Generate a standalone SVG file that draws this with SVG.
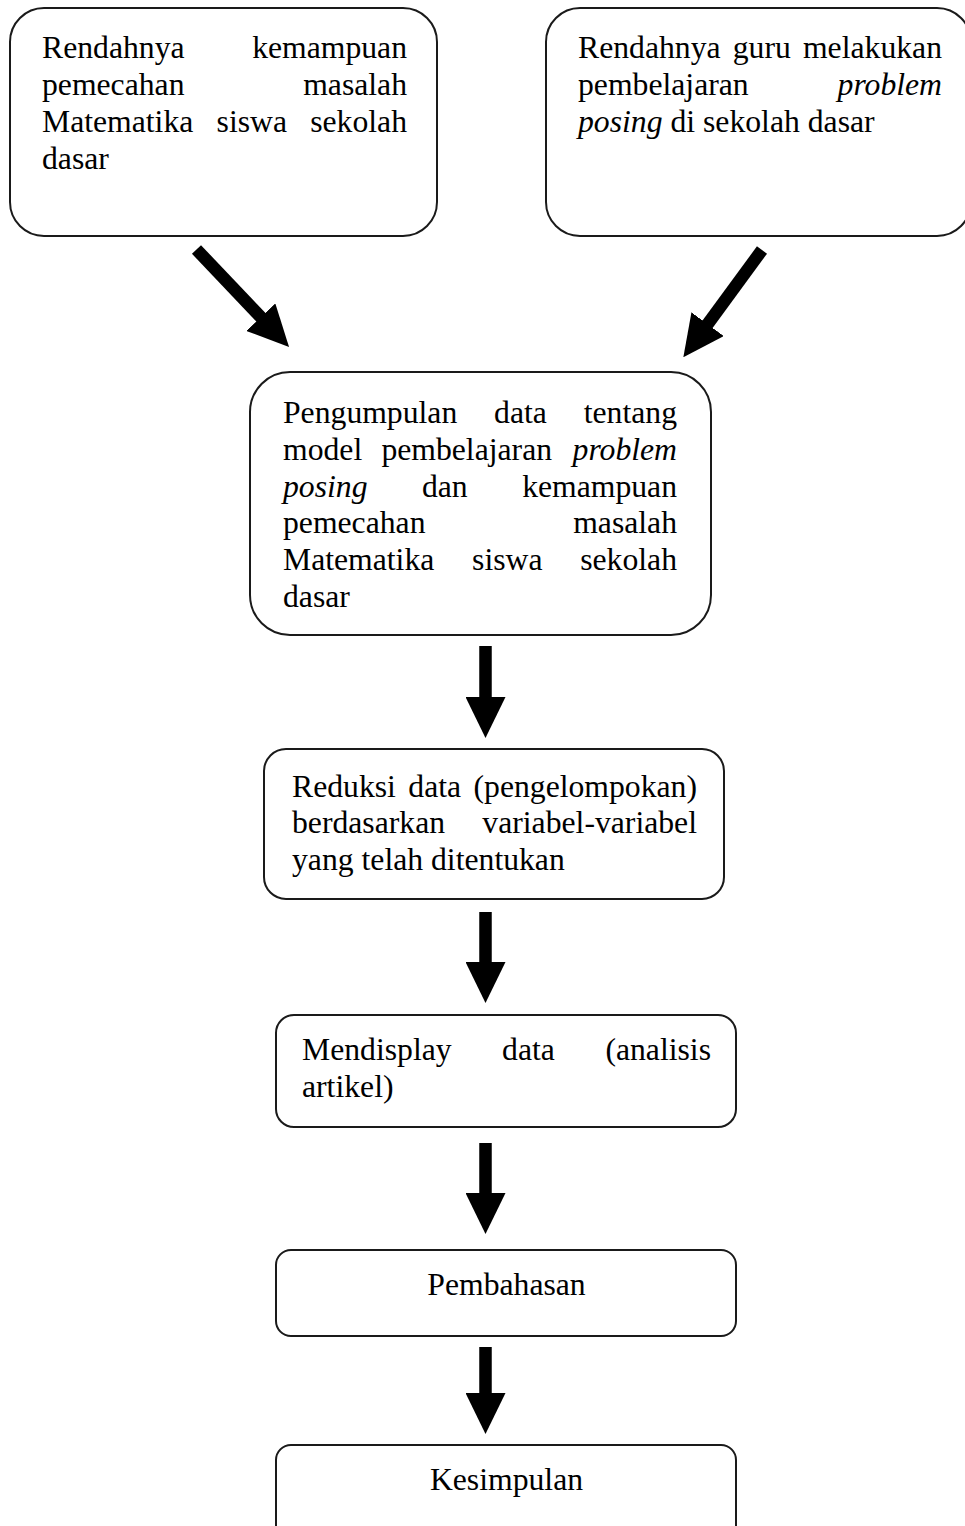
<svg xmlns="http://www.w3.org/2000/svg" width="965" height="1526" viewBox="0 0 965 1526">
<style>
.box{fill:#fff;stroke:#1a1a1a;stroke-width:2}
text{font-family:"Liberation Serif","Times New Roman",serif;font-size:31.7px;fill:#000}
.it{font-style:italic}
.e{text-anchor:end}
.m{text-anchor:middle}
.conn{stroke:#000;stroke-width:12.5;fill:none;stroke-linecap:butt}
</style>
<defs>
<marker id="ah" markerUnits="userSpaceOnUse" markerWidth="41" markerHeight="40" viewBox="0 0 41 40" refX="1" refY="20" orient="auto">
<path d="M0,0 L41,20 L0,40 z" fill="#000"/>
</marker>
</defs>
<rect width="965" height="1526" fill="#fff"/>

<g id="node1">
<rect class="box" x="10" y="8" width="427" height="228" rx="34" ry="34"/>
<text x="42" y="58">Rendahnya</text><text class="e" x="407" y="58">kemampuan</text>
<text x="42" y="95">pemecahan</text><text class="e" x="407" y="95">masalah</text>
<text x="42" y="132">Matematika</text><text x="216.6" y="132">siswa</text><text class="e" x="407" y="132">sekolah</text>
<text x="42" y="169">dasar</text>
</g>

<g id="node2">
<rect class="box" x="546" y="8" width="425" height="228" rx="34" ry="34"/>
<text x="578" y="58">Rendahnya</text><text x="732.7" y="58">guru</text><text class="e" x="942" y="58">melakukan</text>
<text x="578" y="95">pembelajaran</text><text class="e it" x="942" y="95">problem</text>
<text x="578" y="132"><tspan class="it">posing</tspan> di sekolah dasar</text>
</g>

<g id="node3">
<rect class="box" x="250" y="372" width="461" height="263" rx="40" ry="40"/>
<text x="283" y="423">Pengumpulan</text><text x="494.1" y="423">data</text><text class="e" x="677" y="423">tentang</text>
<text x="283" y="459.8">model</text><text x="381.4" y="459.8">pembelajaran</text><text class="e it" x="677" y="459.8">problem</text>
<text class="it" x="283" y="496.6">posing</text><text x="421.9" y="496.6">dan</text><text class="e" x="677" y="496.6">kemampuan</text>
<text x="283" y="533.4">pemecahan</text><text class="e" x="677" y="533.4">masalah</text>
<text x="283" y="570.2">Matematika</text><text x="472.1" y="570.2">siswa</text><text class="e" x="677" y="570.2">sekolah</text>
<text x="283" y="607">dasar</text>
</g>

<g id="node4">
<rect class="box" x="264" y="749" width="460" height="150" rx="22" ry="22"/>
<text x="292" y="797">Reduksi</text><text x="408.3" y="797">data</text><text class="e" x="697" y="797">(pengelompokan)</text>
<text x="292" y="833">berdasarkan</text><text class="e" x="697" y="833">variabel-variabel</text>
<text x="292" y="870">yang telah ditentukan</text>
</g>

<g id="node5">
<rect class="box" x="276" y="1015" width="460" height="112" rx="18" ry="18"/>
<text x="302" y="1060">Mendisplay</text><text x="502.1" y="1060">data</text><text class="e" x="711" y="1060">(analisis</text>
<text x="302" y="1097">artikel)</text>
</g>

<g id="node6">
<rect class="box" x="276" y="1250" width="460" height="86" rx="15" ry="15"/>
<text class="m" x="506.5" y="1295">Pembahasan</text>
</g>

<g id="node7">
<rect class="box" x="276" y="1445" width="460" height="100" rx="15" ry="15"/>
<text class="m" x="506.5" y="1490">Kesimpulan</text>
</g>

<g id="connectors">
<line class="conn" x1="196.5" y1="249.5" x2="261.5" y2="317.9" marker-end="url(#ah)"/>
<line class="conn" x1="762" y1="250" x2="707" y2="325" marker-end="url(#ah)"/>
<line class="conn" x1="485.5" y1="646" x2="485.5" y2="698" marker-end="url(#ah)"/>
<line class="conn" x1="485.5" y1="912" x2="485.5" y2="963" marker-end="url(#ah)"/>
<line class="conn" x1="485.5" y1="1143" x2="485.5" y2="1194" marker-end="url(#ah)"/>
<line class="conn" x1="485.5" y1="1347" x2="485.5" y2="1394" marker-end="url(#ah)"/>
</g>
</svg>
